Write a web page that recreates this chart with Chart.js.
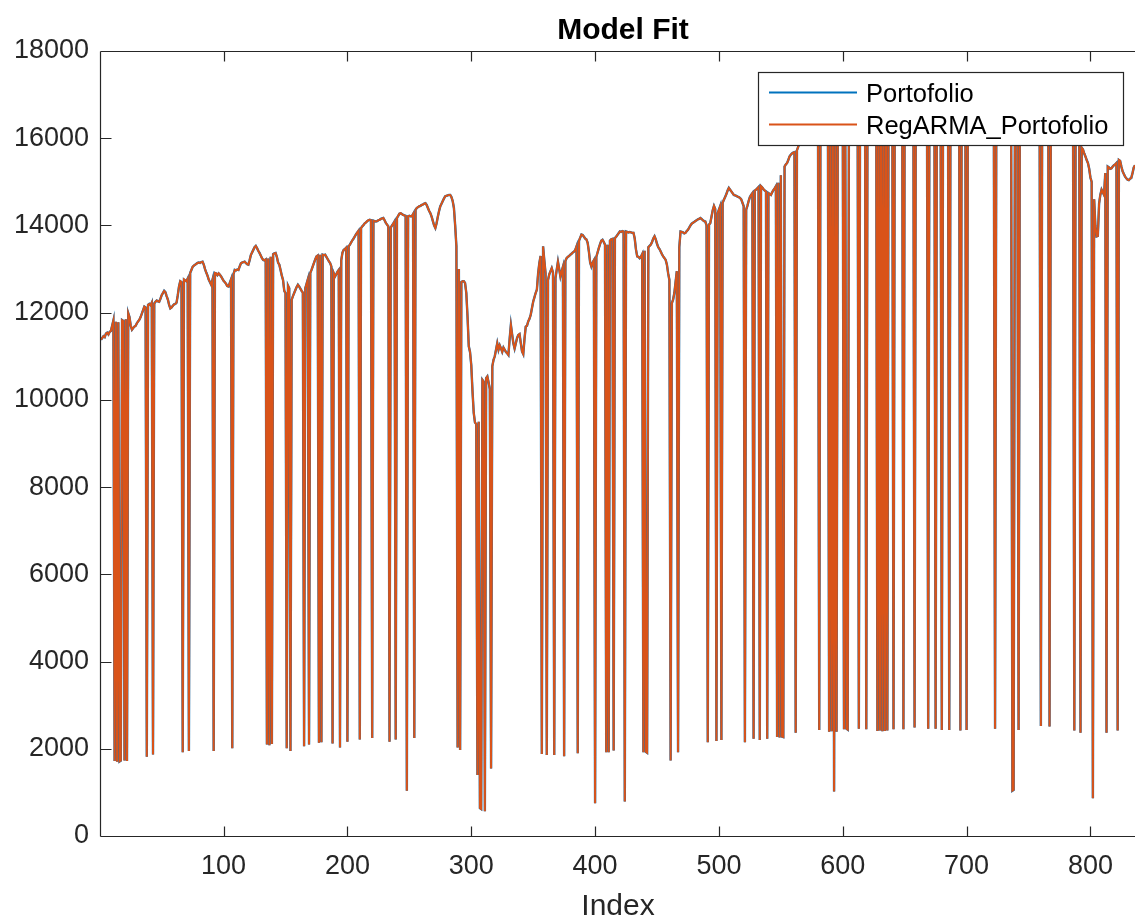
<!DOCTYPE html>
<html>
<head>
<meta charset="utf-8">
<script src="https://cdn.jsdelivr.net/npm/chart.js@4.4.1/dist/chart.umd.min.js"></script>
<style>
  html, body { margin: 0; padding: 0; background: #ffffff; overflow: hidden; }
  canvas { display: block; }
</style>
</head>
<body>
<canvas id="fit" width="1135" height="918"></canvas>
<script>
// ---- labels ----
const chartTitle = 'Model Fit';
const axisTitle = 'Index';
const seriesNames = ['Portofolio', 'RegARMA_Portofolio'];

// ---- tick values ----
const indexTicks = [100, 200, 300, 400, 500, 600, 700, 800];
const valueTicks = [0, 2000, 4000, 6000, 8000, 10000, 12000, 14000, 16000, 18000];

// ---- observed portfolio value, one entry per index (1..836) ----
const portfolio = [
  11380,11420,11460,11440,11520,11540,11500,11560,11580,11700,
  11820,1720,11790,1700,11780,1710,1730,11830,11810,1730,
  11850,1720,11990,11900,11700,11610,11650,11680,11700,11760,
  11800,11840,11900,11980,12060,12140,12120,1820,12180,12200,
  12170,12230,1870,12210,12250,12280,12260,12250,12320,12400,
  12450,12500,12470,12380,12300,12180,12100,12120,12160,12190,
  12200,12230,12400,12600,12720,12700,1920,12760,12740,12720,
  12780,1950,12910,12980,13050,13080,13100,13120,13140,13150,
  13140,13160,13170,13100,13000,12920,12850,12760,12700,12640,
  12750,1950,12910,12900,12860,12900,12870,12830,12780,12730,
  12700,12660,12610,12600,12680,12760,2010,12880,12980,12970,
  12990,12980,13060,13130,13150,13160,13170,13140,13110,13100,
  13200,13320,13380,13440,13500,13530,13480,13420,13370,13310,
  13250,13210,13200,13220,2100,13240,2080,13280,2110,13340,
  13360,13370,13280,13150,13100,12980,12850,12750,12500,12450,
  2010,12620,12560,1950,12300,12380,12450,12520,12590,12640,
  12600,12550,12500,12460,2060,12560,12660,12760,2100,12910,
  12980,13060,13140,13220,13290,13310,2140,13330,2150,13330,
  13320,13330,13280,13230,13180,13140,13060,2120,12900,12830,
  12880,12940,12980,2030,13200,13380,13440,13460,13490,2160,
  13520,13560,13610,13660,13700,13750,13800,13840,13880,2210,
  13940,13980,14010,14050,14070,14100,14120,14130,14120,2250,
  14110,14100,14090,14100,14120,14130,14150,14160,14170,14120,
  14060,14020,13980,2160,13950,14000,14040,14090,2210,14170,
  14220,14270,14280,14260,14240,14230,14220,1040,14210,14220,
  14210,14210,14260,2250,14360,14400,14420,14440,14450,14470,
  14480,14500,14510,14470,14400,14330,14280,14200,14100,14000,
  13940,14050,14200,14330,14440,14500,14560,14620,14670,14680,
  14690,14700,14700,14650,14560,14400,14000,13520,2030,13000,
  1970,12700,12720,12720,12680,12450,11900,11230,11100,10800,
  10200,9700,9480,9450,1400,9500,640,620,10460,10420,
  570,10500,10540,10400,10250,1550,10770,10920,11000,11150,
  11300,11150,11250,11180,11100,11200,11150,11100,11070,11030,
  11400,11720,11500,11300,11180,11300,11420,11490,11510,11300,
  11110,11050,11400,11680,11700,11800,11860,11950,12100,12250,
  12350,12450,12530,12900,13140,13300,1880,13520,13200,12900,
  1860,12750,12880,12950,13020,12920,1860,12790,12980,13170,
  13000,12830,12950,13050,1830,13180,13250,13280,13300,13330,
  13350,13380,13400,13440,13520,1900,13650,13720,13790,13780,
  13740,13700,13680,13600,13400,13150,13060,13150,13200,750,
  13280,13380,13480,13570,13650,13670,13620,13560,1920,13560,
  1920,13650,13680,13690,1960,13710,13740,13780,13820,13860,
  13850,13870,13860,790,13860,13850,13840,13850,13840,13830,
  13830,13700,13450,13290,13280,13250,13280,13340,1920,13420,
  1930,1910,13500,13530,13560,13620,13700,13750,13680,13580,
  13500,13460,13400,13340,13290,13250,13210,13100,12900,12750,
  1730,12220,12300,12450,12700,12950,1920,13500,13860,13850,
  13840,13820,13830,13870,13900,13950,14000,14040,14060,14080,
  14100,14120,14140,14150,14170,14150,14120,14100,14090,14000,
  2150,14020,14050,14200,14350,14450,14380,2180,14280,14360,
  14440,2200,14520,14590,14650,14720,14800,14860,14820,14780,
  14740,14700,14690,14680,14660,14650,14630,14600,14520,14440,
  2150,14360,14450,14560,14650,14700,14740,2230,14800,14820,
  14850,14880,2200,14900,14870,14830,14800,14780,2230,14740,
  14720,14700,14760,14810,14850,14900,2270,14980,2260,15150,
  2280,2270,15350,15400,15430,15500,15580,15620,15650,15670,
  15680,2370,15720,15800,15880,15950,16000,16050,16100,16150,
  16180,16220,16250,16300,16280,16320,16350,16400,16380,16420,
  2430,16450,16480,16500,16470,16520,16550,16580,2390,16600,
  2400,16620,1020,16640,2390,16650,16680,16700,16720,16700,
  2450,16750,2460,2440,16800,16820,16850,16830,16870,16900,
  16880,16920,2460,16950,16980,16960,17000,17020,2450,17050,
  17030,17060,17080,17050,17100,17120,17090,2410,17100,2420,
  17130,2400,17150,2410,17120,2420,17100,17140,17160,17180,
  2450,17200,17180,17220,17250,17230,17260,17280,2450,17300,
  17270,17250,17280,17300,17320,17290,17310,2490,17330,17300,
  17280,17250,17270,17240,17200,17220,17180,17200,2460,17150,
  17120,17140,17100,17080,2460,17050,17070,17030,17000,2430,
  16980,16950,16970,16940,16900,2430,16880,16900,16860,16830,
  16850,16800,16780,16760,2420,16740,16760,16720,16700,2430,
  16680,16700,16720,16690,16660,16680,16640,16620,16650,16600,
  16580,16600,16560,16540,16560,16520,16500,16530,16490,16470,
  16500,16480,2460,16450,16470,16430,16410,16440,16400,16380,
  16400,16360,16340,16370,16330,16310,1040,1060,16300,16320,
  16280,2430,16300,16260,16240,16270,16230,16250,16210,16200,
  16230,16190,16170,16200,16160,16140,16170,16130,16110,2520,
  16140,16100,16080,16110,16070,16050,2510,16080,16040,16020,
  16050,16010,15990,16020,15980,16000,15970,15990,15960,15980,
  15950,15970,15940,15960,15930,15950,2420,15920,15900,15880,
  15860,2370,15780,15740,15650,15580,15500,15430,15300,15100,
  15000,865,14600,14000,13750,13760,14500,14700,14820,14760,
  14700,15200,2370,15350,15330,15300,15310,15350,15380,15400,
  15430,2420,15500,15480,15350,15240,15180,15120,15080,15050,
  15040,15070,15090,15200,15330,15380
];

// ---- in-sample RegARMA fit: coincides with the observed series at this scale ----
const regarmaPortfolio = portfolio.slice();

// ---- styling ----
const FONT = "'Liberation Sans', Arial, Helvetica, sans-serif";
const INK = '#262626';
const BLUE = '#0072BD';
const ORANGE = '#D95319';

const toPoints = arr => arr.map((v, i) => ({ x: i + 1, y: v }));

// axes box, inward tick marks, title and legend in the MATLAB figure style
const figureFrame = {
  id: 'figureFrame',
  afterDraw(chart) {
    const { ctx, chartArea: a, scales: { x, y } } = chart;
    ctx.save();
    ctx.strokeStyle = INK;
    ctx.lineWidth = 1.2;
    ctx.beginPath();
    const top = Math.round(a.top) + 0.5, bottom = Math.round(a.bottom) + 0.5, left = Math.round(a.left) - 0.5;
    ctx.moveTo(left, top); ctx.lineTo(a.right, top);
    ctx.moveTo(left, top); ctx.lineTo(left, bottom);
    ctx.moveTo(left, bottom); ctx.lineTo(a.right, bottom);
    indexTicks.forEach(t => {
      const px = Math.round(x.getPixelForValue(t)) + 0.5;
      ctx.moveTo(px, bottom); ctx.lineTo(px, bottom - 10);
      ctx.moveTo(px, top); ctx.lineTo(px, top + 10);
    });
    valueTicks.forEach(t => {
      const py = Math.round(y.getPixelForValue(t)) + 0.5;
      ctx.moveTo(left, py); ctx.lineTo(left + 11, py);
    });
    ctx.stroke();

    // title
    ctx.fillStyle = '#000000';
    ctx.font = `bold 30px ${FONT}`;
    ctx.textAlign = 'center';
    ctx.textBaseline = 'middle';
    ctx.fillText(chartTitle, 623, 31);

    // legend
    const lx = 758.5, ly = 72.5, lw = 365, lh = 73;
    ctx.fillStyle = '#ffffff';
    ctx.fillRect(lx, ly, lw, lh);
    ctx.strokeStyle = INK;
    ctx.lineWidth = 1.2;
    ctx.strokeRect(lx, ly, lw, lh);
    const rows = [[seriesNames[0], BLUE, 92.5], [seriesNames[1], ORANGE, 124.5]];
    ctx.font = `25.5px ${FONT}`;
    ctx.textAlign = 'left';
    rows.forEach(([label, color, yy]) => {
      ctx.strokeStyle = color;
      ctx.lineWidth = 1.8;
      ctx.beginPath();
      ctx.moveTo(769, yy); ctx.lineTo(857, yy);
      ctx.stroke();
      ctx.fillStyle = '#000000';
      ctx.fillText(label, 866, yy + 2);
    });
    ctx.restore();
  }
};

new Chart(document.getElementById('fit'), {
  type: 'line',
  data: {
    datasets: [
      {
        label: seriesNames[0],
        data: toPoints(portfolio),
        borderColor: BLUE,
        borderWidth: 2.4,
        pointRadius: 0,
        tension: 0,
        order: 2
      },
      {
        label: seriesNames[1],
        data: toPoints(regarmaPortfolio),
        borderColor: ORANGE,
        borderWidth: 2.0,
        pointRadius: 0,
        tension: 0,
        order: 1
      }
    ]
  },
  options: {
    responsive: false,
    devicePixelRatio: 1,
    animation: false,
    events: [],
    layout: { padding: { top: 51, right: 0, bottom: 0, left: 0 } },
    plugins: {
      legend: { display: false },
      title: { display: false },
      tooltip: { enabled: false }
    },
    scales: {
      x: {
        type: 'linear',
        min: 1,
        max: 836,
        afterBuildTicks: s => { s.ticks = indexTicks.map(v => ({ value: v })); },
        afterFit: s => { s.height = 82; },
        grid: { display: false, drawTicks: false },
        border: { display: false },
        ticks: {
          autoSkip: false,
          maxRotation: 0,
          padding: 14,
          color: INK,
          font: { family: FONT, size: 27 },
          callback: v => String(v)
        },
        title: {
          display: true,
          text: axisTitle,
          color: INK,
          font: { family: FONT, size: 30, lineHeight: 1 },
          padding: { top: 0, bottom: -4 }
        }
      },
      y: {
        type: 'linear',
        min: 0,
        max: 18000,
        afterBuildTicks: s => { s.ticks = valueTicks.map(v => ({ value: v })); },
        afterFit: s => { s.width = 101; },
        grid: { display: false, drawTicks: false },
        border: { display: false },
        ticks: {
          autoSkip: false,
          padding: 12,
          color: INK,
          font: { family: FONT, size: 27 },
          callback: v => String(v)
        }
      }
    }
  },
  plugins: [figureFrame]
});
</script>
</body>
</html>
